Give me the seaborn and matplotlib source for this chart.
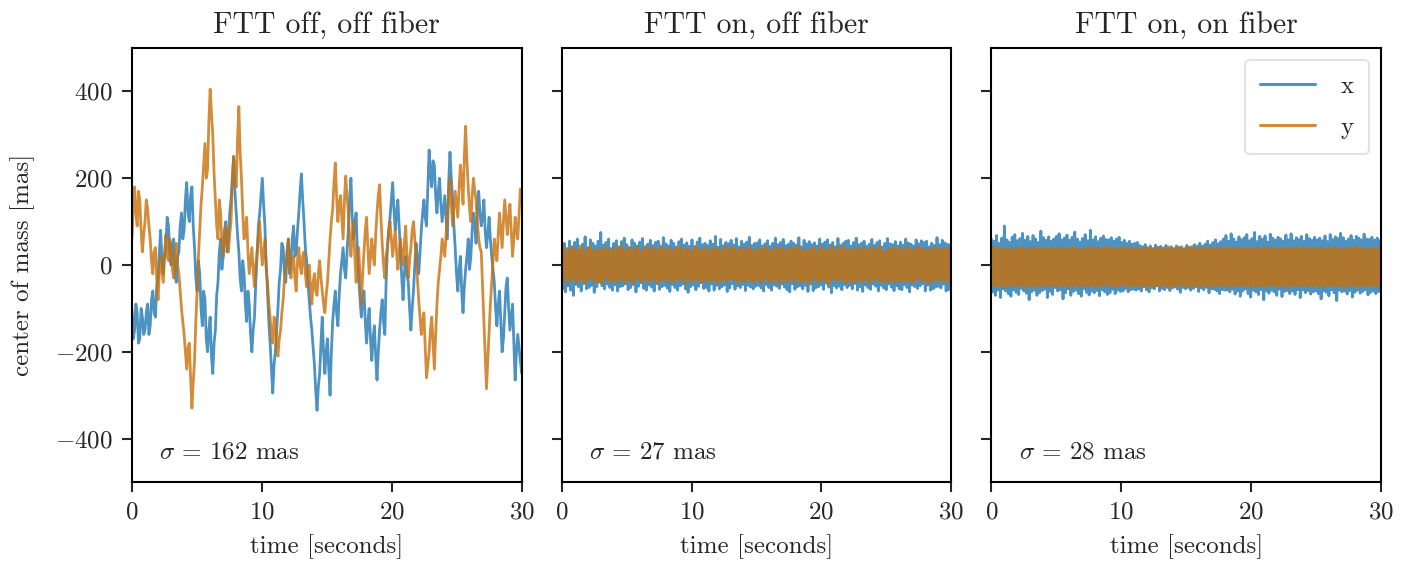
import numpy as np
import pandas as pd
import matplotlib
matplotlib.use("Agg")
import matplotlib.pyplot as plt
import seaborn as sns

# panel titles, legend labels and sigma annotations
titles = ["FTT off, off fiber", "FTT on, off fiber", "FTT on, on fiber"]
sigmas = [162, 27, 28]
series_names = ["x", "y"]

# panel 1 - FTT off, off fiber (mas)
x1 = [-100, -170, -150, -90, -110, -180, -170, -100, -120, -160, -150, -110, -90, -160, -140, -80, -60, -110, -120, -50,
      -30, 30, 80, 10, -20, 20, 40, 110, 90, 30, 0, 50, 60, -20, -40, 20, 30, 90, 120, 60,
      80, 150, 190, 120, 100, 160, 180, 90, 40, -30, -60, 10, -20, -100, -140, -60, -80, -170, -200, -150,
      -120, -210, -250, -180, -150, -70, -40, 30, 60, -10, 20, 80, 100, 30, 60, 120, 150, 200, 250, 170,
      120, 70, 30, -30, -60, 10, -20, -90, -130, -60, -90, -160, -200, -150, -120, -40, 20, 90, 120, 160,
      200, 140, 90, 0, -60, -130, -180, -240, -295, -230, -200, -150, -100, -40, -10, 50, 40, -20, -40, 30,
      60, -20, 10, 60, 90, 20, 30, 80, 120, 170, 210, 150, 100, 40, 10, -40, -80, -120, -150, -190,
      -230, -290, -335, -280, -250, -180, -120, -200, -250, -200, -170, -240, -300, -200, -130, -90, -60, -110, -140, -70,
      -20, 10, 40, -10, -30, 30, 80, 150, 200, 110, 60, 100, 120, 30, -30, -80, -120, -80, -60, -130,
      -180, -130, -100, -170, -220, -170, -140, -210, -265, -200, -150, -110, -80, -130, -160, -40, 40, 80, 110, 150,
      190, 130, 80, 120, 150, 90, 30, -30, -80, -20, 20, -20, -40, -100, -150, -100, -60, 0, 50, 10,
      -20, 30, 80, 120, 150, 110, 90, 180, 265, 210, 180, 240, 230, 160, 120, 170, 200, 140, 100, 130,
      160, 110, 60, 190, 260, 200, 150, 90, 40, -20, -60, -10, 20, -60, -110, -50, -10, 20, 60, -10,
      20, 80, 120, 90, 50, 130, 170, 120, 90, 110, 150, 80, 40, 70, 110, 60, 20, -10, -40, -100,
      -140, -90, -60, -130, -200, -170, -110, -50, -30, -100, -150, -120, -90, -180, -265, -200, -160, -190, -220, -250]
y1 = [60, 130, 180, 120, 90, 170, 150, 80, 30, 70, 100, 150, 130, 90, 60, 10, -20, 30, 40, -30,
      -80, -20, 20, -10, -40, 30, 70, 20, 10, 60, 40, -10, -30, 20, 50, 0, -20, -60, -100, -130,
      -160, -200, -240, -190, -180, -260, -330, -270, -220, -130, -60, 20, 80, 140, 180, 230, 280, 200, 220, 330,
      405, 350, 300, 210, 150, 90, 60, 150, 120, 50, 20, 70, 90, 40, 30, 70, 100, 190, 250, 200,
      180, 290, 365, 260, 200, 120, 60, 80, 110, 30, -20, 10, 40, -10, -50, 0, 30, 70, 100, 40,
      0, 30, 60, -10, -40, -90, -120, -170, -180, -120, -130, -190, -210, -170, -150, -110, -80, -30, -10, 30,
      60, 0, -30, 10, 20, -30, -60, 10, 40, 0, -20, 20, 30, -20, -50, -10, 0, -50, -90, -40,
      -20, -60, -70, -20, 10, -30, -60, -90, -110, -70, -40, 10, 60, 100, 130, 190, 235, 160, 100, 140,
      160, 110, 60, 150, 205, 160, 120, 60, 20, 70, 100, 20, -40, 10, 40, -30, -90, -20, 30, 80,
      110, 40, -20, 20, 60, 20, 0, 70, 120, 160, 185, 110, 50, 0, -30, 20, 40, 80, 100, 60,
      20, 50, 80, 30, -10, 30, 60, 20, 0, 50, 90, 20, -30, 10, 40, 80, 100, 60, 20, -30,
      -80, -120, -160, -130, -110, -190, -260, -230, -200, -150, -120, -180, -240, -160, -90, -40, -10, 20, 60, 40,
      20, 70, 120, 160, 200, 140, 90, 130, 170, 140, 110, 180, 230, 190, 140, 250, 320, 240, 180, 130,
      100, 160, 200, 170, 150, 100, 60, 40, 30, -50, -130, -210, -285, -220, -150, -90, -40, 10, 60, 30,
      10, 70, 120, 80, 40, 100, 150, 110, 70, 110, 140, 80, 20, 60, 110, 80, 60, 120, 175, 150]

# panel 2 - FTT on, off fiber
x2 = [45, -55, 50, -62, 38, -48, 55, -58, 42, -70,
      52, -45, 60, -50, 35, -60, 48, -42, 65, -55,
      40, -52, 58, -47, 50, -63, 44, -50, 55, -40,
      75, -48, 46, -55, 52, -44, 60, -52, 38, -58,
      50, -46, 56, -60, 42, -50, 54, -48, 62, -43,
      47, -57, 40, -52, 58, -45, 50, -62, 44, -49,
      53, -41, 61, -54, 39, -58, 48, -46, 57, -51,
      45, -60, 52, -43, 55, -56, 41, -50, 63, -47,
      49, -53, 44, -61, 57, -45, 50, -52, 40, -58,
      54, -48, 60, -44, 46, -55, 51, -63, 43, -50,
      58, -46, 42, -57, 53, -49, 62, -41, 47, -54,
      50, -52, 45, -60, 56, -44, 48, -58, 66, -47,
      41, -55, 59, -50, 44, -46, 52, -61, 49, -53,
      57, -43, 46, -56, 61, -48, 42, -52, 55, -45,
      48, -59, 53, -47, 64, -51, 45, -55, 50, -49,
      51, -47, 58, -53, 44, -60, 49, -45, 56, -52,
      43, -58, 50, -46, 62, -49, 47, -54, 52, -44,
      59, -51, 45, -57, 48, -62, 55, -43, 50, -56,
      46, -50, 63, -48, 42, -55, 57, -47, 49, -61,
      54, -44, 47, -59, 51, -53, 44, -50, 60, -46,
      48, -56, 53, -42, 58, -51, 46, -64, 52, -48,
      42, -53, 61, -49, 45, -57, 50, -45, 55, -52,
      57, -47, 44, -55, 52, -43, 62, -58, 47, -50,
      50, -61, 55, -46, 43, -52, 48, -56, 59, -44,
      45, -49, 52, -60, 56, -47, 41, -53, 50, -57,
      61, -44, 49, -51, 47, -59, 54, -48, 44, -55,
      53, -57, 46, -45, 60, -52, 51, -62, 48, -46,
      44, -50, 58, -54, 49, -48, 56, -43, 52, -60,
      55, -46, 42, -58, 50, -55, 45, -51, 63, -49,
      47, -53, 57, -44, 51, -60, 48, -57, 46, -52]
y2 = [32, -38, 40, -30, 28, -42, 36, -34, 41, -29,
      35, -40, 30, -36, 44, -31, 38, -43, 27, -37,
      39, -33, 42, -28, 34, -41, 30, -38, 37, -35,
      31, -44, 38, -32, 40, -30, 35, -39, 29, -36,
      42, -34, 33, -40, 37, -29, 45, -37, 32, -41,
      36, -31, 40, -38, 30, -43, 39, -33, 41, -30,
      34, -39, 29, -35, 43, -32, 37, -40, 33, -36,
      40, -30, 36, -42, 31, -37, 44, -34, 38, -31,
      33, -41, 39, -29, 35, -38, 30, -36, 42, -33,
      37, -35, 41, -31, 32, -44, 38, -30, 34, -40,
      30, -37, 43, -34, 39, -32, 35, -41, 31, -38,
      41, -33, 34, -39, 29, -36, 40, -31, 37, -42,
      35, -40, 31, -37, 44, -30, 33, -38, 39, -34,
      38, -32, 42, -35, 30, -41, 36, -33, 40, -37,
      32, -39, 37, -31, 41, -36, 34, -40, 30, -35,
      36, -33, 39, -41, 31, -35, 43, -30, 38, -37,
      29, -40, 35, -32, 42, -38, 33, -44, 37, -31,
      40, -36, 30, -39, 36, -33, 41, -29, 34, -42,
      38, -31, 44, -37, 32, -40, 36, -35, 30, -38,
      33, -43, 37, -30, 40, -34, 29, -41, 39, -36,
      42, -32, 31, -38, 35, -45, 38, -33, 43, -30,
      30, -37, 40, -35, 34, -31, 44, -39, 32, -40,
      37, -34, 33, -42, 39, -36, 30, -32, 41, -38,
      35, -41, 42, -29, 31, -37, 36, -43, 38, -33,
      40, -30, 34, -38, 45, -35, 32, -40, 29, -36,
      33, -39, 38, -31, 36, -42, 40, -34, 35, -37,
      41, -35, 30, -40, 37, -32, 43, -38, 31, -41,
      34, -36, 39, -33, 42, -30, 35, -39, 38, -34,
      31, -42, 36, -37, 33, -39, 41, -31, 37, -35,
      39, -34, 32, -41, 40, -33, 36, -38, 34, -36]

# panel 3 - FTT on, on fiber
x3 = [60, -62, 55, -70, 68, -58, 50, -75, 62, -55,
      90, -60, 58, -66, 52, -72, 64, -57, 70, -63,
      56, -68, 61, -54, 73, -60, 57, -65, 66, -80,
      54, -62, 68, -58, 60, -70, 52, -64, 78, -59,
      63, -56, 57, -75, 65, -61, 55, -68, 60, -52,
      66, -60, 72, -57, 58, -78, 62, -64, 69, -55,
      57, -70, 64, -61, 76, -58, 60, -66, 53, -72,
      61, -55, 70, -63, 56, -69, 80, -60, 58, -64,
      65, -59, 54, -71, 62, -57, 67, -62, 59, -68,
      58, -64, 63, -56, 55, -66, 60, -58, 64, -61,
      52, -60, 57, -54, 50, -62, 55, -57, 48, -56,
      50, -58, 52, -55, 45, -60, 42, -50, 47, -57,
      40, -62, 44, -52, 38, -55, 46, -48, 41, -60,
      43, -54, 39, -57, 45, -51, 37, -59, 42, -53,
      38, -50, 44, -56, 40, -63, 42, -52, 36, -55,
      45, -52, 41, -58, 39, -54, 47, -50, 43, -61,
      50, -53, 43, -57, 48, -50, 55, -64, 46, -55,
      52, -56, 58, -60, 49, -66, 54, -57, 60, -58,
      68, -58, 55, -62, 72, -56, 60, -67, 53, -60,
      65, -72, 58, -60, 63, -55, 70, -66, 56, -74,
      61, -58, 75, -62, 54, -68, 66, -57, 59, -80,
      67, -60, 53, -65, 71, -58, 62, -62, 57, -70,
      64, -56, 60, -73, 55, -61, 69, -59, 58, -66,
      72, -60, 56, -68, 63, -57, 59, -75, 66, -58,
      55, -64, 70, -59, 61, -67, 57, -62, 64, -60,
      58, -66, 62, -78, 56, -60, 67, -63, 54, -71,
      70, -57, 59, -64, 65, -82, 61, -58, 73, -62,
      63, -60, 55, -67, 60, -59, 68, -74, 57, -63,
      66, -58, 62, -65, 58, -61, 71, -57, 60, -69,
      59, -63, 64, -60, 57, -66, 62, -61, 56, -64]
y3 = [38, -45, 42, -50, 35, -48, 40, -44, 36, -52,
      41, -47, 34, -50, 39, -43, 37, -49, 33, -46,
      40, -51, 36, -44, 42, -48, 35, -53, 38, -45,
      34, -49, 41, -46, 37, -52, 39, -43, 36, -50,
      42, -44, 38, -51, 35, -47, 40, -45, 37, -48,
      36, -50, 39, -43, 41, -49, 34, -46, 38, -52,
      40, -45, 43, -48, 36, -44, 39, -51, 35, -47,
      37, -49, 34, -46, 42, -50, 38, -44, 40, -48,
      35, -52, 41, -45, 37, -49, 36, -47, 43, -43,
      39, -48, 35, -51, 40, -46, 38, -50, 34, -45,
      42, -47, 37, -44, 36, -52, 41, -48, 39, -46,
      34, -50, 40, -45, 38, -49, 35, -47, 42, -53,
      37, -44, 39, -51, 36, -46, 41, -48, 35, -50,
      40, -47, 34, -45, 38, -52, 42, -46, 37, -49,
      36, -51, 39, -44, 41, -48, 35, -46, 38, -50,
      40, -46, 37, -50, 43, -45, 36, -48, 39, -51,
      35, -49, 41, -44, 38, -52, 34, -47, 42, -45,
      37, -51, 36, -48, 40, -43, 39, -50, 33, -47,
      43, -45, 38, -53, 35, -46, 41, -49, 37, -44,
      36, -48, 42, -46, 34, -51, 39, -45, 40, -52,
      38, -44, 35, -50, 41, -47, 37, -49, 36, -46,
      41, -52, 39, -45, 33, -48, 42, -44, 38, -51,
      35, -47, 40, -49, 37, -43, 36, -52, 41, -46,
      39, -50, 34, -46, 43, -48, 38, -45, 35, -49,
      42, -44, 37, -51, 36, -47, 40, -50, 39, -45,
      34, -49, 41, -46, 38, -52, 35, -44, 37, -48,
      40, -45, 36, -50, 42, -47, 34, -49, 38, -46,
      37, -53, 39, -44, 35, -48, 41, -46, 36, -51,
      43, -46, 38, -49, 37, -45, 40, -52, 34, -47,
      36, -48, 41, -45, 39, -50, 35, -47, 38, -49]

panels = [(x1, y1), (x2, y2), (x3, y3)]

sns.set_style("ticks")
plt.rcParams['font.family'] = ['cmr10']
plt.rcParams['mathtext.fontset'] = 'cm'
plt.rcParams['axes.formatter.use_mathtext'] = True
plt.rcParams['axes.unicode_minus'] = True

palette = {"x": "#1f77b4", "y": "#c96f09"}
fs = 18

fig, axes = plt.subplots(1, 3, figsize=(14.22, 5.72), dpi=100, sharey=True)
fig.subplots_adjust(left=0.0928, right=0.9712, top=0.9161, bottom=0.1573,
                    wspace=0.1026)

for i, ax in enumerate(axes):
    xs, ys = panels[i]
    # samples are evenly spaced over the 30 s recording
    tx = np.linspace(0, 30, len(xs))
    ty = np.linspace(0, 30, len(ys))
    df = pd.DataFrame({"time": np.concatenate([tx, ty]),
                       "com": np.concatenate([xs, ys]),
                       "axis": ["x"] * len(xs) + ["y"] * len(ys)})
    sns.lineplot(data=df, x="time", y="com", hue="axis", palette=palette,
                 hue_order=series_names, ax=ax, linewidth=2.0, alpha=0.8,
                 legend=(i == 2), estimator=None, sort=False)
    ax.set_xlim(0, 30)
    ax.set_ylim(-500, 500)
    ax.set_xticks([0, 10, 20, 30])
    ax.set_yticks([-400, -200, 0, 200, 400])
    ax.set_title(titles[i], fontsize=21.5, pad=10)
    ax.set_xlabel("time [seconds]", fontsize=fs, labelpad=8)
    ax.set_ylabel("center of mass [mas]" if i == 0 else "", fontsize=fs,
                  labelpad=14)
    ax.tick_params(labelsize=fs, width=1.5, length=7, pad=7)
    for sp in ax.spines.values():
        sp.set_visible(True)
        sp.set_linewidth(1.5)
        sp.set_color("black")
    ax.text(0.07, 0.069, r"$\sigma$ = %d mas" % sigmas[i],
            transform=ax.transAxes, fontsize=fs, va="center")

leg = axes[2].legend(loc="upper right", fontsize=fs, frameon=True,
                     handlelength=2.2, borderpad=0.6, labelspacing=0.75,
                     handletextpad=1.0)
leg.set_title(None)
leg.get_frame().set_edgecolor("#dddddd")
leg.get_frame().set_linewidth(1.5)
for line in leg.get_lines():
    line.set_linewidth(2.2)
    line.set_alpha(0.8)

fig.savefig("out.png", dpi=100)
